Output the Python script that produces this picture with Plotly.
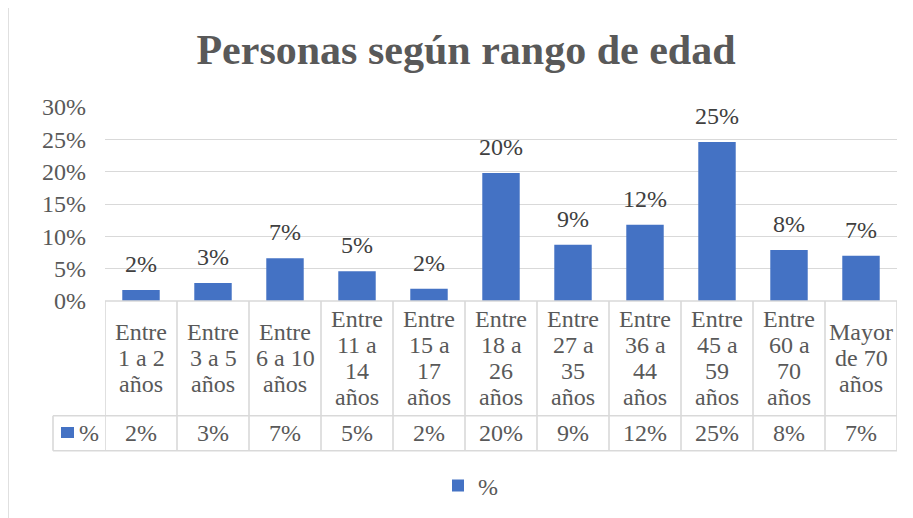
import plotly.graph_objects as go

# ---- data ----
categories = ["Entre 1 a 2 años", "Entre 3 a 5 años", "Entre 6 a 10 años",
              "Entre 11 a 14 años", "Entre 15 a 17 años", "Entre 18 a 26 años",
              "Entre 27 a 35 años", "Entre 36 a 44 años", "Entre 45 a 59 años",
              "Entre 60 a 70 años", "Mayor de 70 años"]
category_lines = [["Entre", "1 a 2", "años"], ["Entre", "3 a 5", "años"],
                  ["Entre", "6 a 10", "años"], ["Entre", "11 a", "14", "años"],
                  ["Entre", "15 a", "17", "años"], ["Entre", "18 a", "26", "años"],
                  ["Entre", "27 a", "35", "años"], ["Entre", "36 a", "44", "años"],
                  ["Entre", "45 a", "59", "años"], ["Entre", "60 a", "70", "años"],
                  ["Mayor", "de 70", "años"]]
values = [0.017, 0.028, 0.066, 0.046, 0.019, 0.198, 0.087, 0.118, 0.246, 0.079, 0.070]
series_name = "%"
title_text = "Personas según rango de edad"
y_ticks = [0, 0.05, 0.10, 0.15, 0.20, 0.25, 0.30]

# ---- layout helpers ----
W, H = 913, 518
OFF = 8  # page body margin offset of the rendered figure
PLOT_L, PLOT_R, PLOT_T, PLOT_B = 105, 897, 107, 301  # target screen pixels
L, T = PLOT_L - OFF, PLOT_T - OFF
R = W - (PLOT_R - OFF)
B = H - (PLOT_B - OFF)
PW, PH = W - L - R, H - T - B
FONT = "Liberation Serif, Times New Roman, serif"
BLUE = "#4472C4"
GRID = "#D9D9D9"
TXT = "#595959"
LBL = "#404040"


def py(px):
    """screen pixel y -> paper y"""
    return (PLOT_B - px) / PH


def pxx(px):
    """screen pixel x -> paper x"""
    return (px - PLOT_L) / PW


def pct(v):
    return f"{round(v * 100)}%"


fig = go.Figure()
fig.add_trace(go.Bar(x=categories, y=values, name=series_name, width=0.52,
                     marker=dict(color=BLUE, line=dict(width=0)),
                     hoverinfo="x+y"))

annotations = []
shapes = []

# data labels above bars
for c, v in zip(categories, values):
    annotations.append(dict(x=c, y=v, xref="x", yref="y", text=pct(v),
                            showarrow=False, yanchor="bottom", yshift=11,
                            font=dict(family=FONT, size=24, color=LBL)))

# table geometry (screen pixels)
row1_top, row1_bot, row2_bot = 301, 415.7, 450.7
key_left = 53
row1_c = (row1_top + row1_bot) / 2
row2_c = (row1_bot + row2_bot) / 2
line_gap = 26

for i, (c, lines, v) in enumerate(zip(categories, category_lines, values)):
    n = len(lines)
    for k, t in enumerate(lines):
        yc = row1_c + (k - (n - 1) / 2) * line_gap
        annotations.append(dict(x=c, y=py(yc), xref="x", yref="paper", text=t,
                                showarrow=False, yanchor="middle",
                                font=dict(family=FONT, size=24, color=TXT)))
    annotations.append(dict(x=c, y=py(row2_c), xref="x", yref="paper", text=pct(v),
                            showarrow=False, yanchor="middle",
                            font=dict(family=FONT, size=24, color=TXT)))

# table lines
tl = dict(color=GRID, width=1.6)
for i in range(len(categories) + 1):
    shapes.append(dict(type="line", xref="x", yref="paper", x0=i - 0.5, x1=i - 0.5,
                       y0=py(row1_top), y1=py(row2_bot), line=tl))
shapes.append(dict(type="line", xref="paper", yref="paper", x0=pxx(key_left), x1=pxx(key_left),
                   y0=py(row1_bot), y1=py(row2_bot), line=tl))
shapes.append(dict(type="line", xref="paper", yref="paper", x0=0, x1=1,
                   y0=py(row1_top), y1=py(row1_top), line=tl))
for yy in (row1_bot, row2_bot):
    shapes.append(dict(type="line", xref="paper", yref="paper", x0=pxx(key_left), x1=1,
                       y0=py(yy), y1=py(yy), line=tl))

# key in table
shapes.append(dict(type="rect", xref="paper", yref="paper", x0=pxx(61), x1=pxx(74),
                   y0=py(438), y1=py(427), fillcolor=BLUE, line=dict(width=0)))
annotations.append(dict(x=pxx(77), y=py(row2_c), xref="paper", yref="paper", text=series_name,
                        showarrow=False, xanchor="left", yanchor="middle",
                        font=dict(family=FONT, size=24, color=TXT)))

# outer chart border
shapes.append(dict(type="rect", xref="paper", yref="paper", x0=pxx(8), x1=pxx(940),
                   y0=py(560), y1=py(7), line=dict(color=GRID, width=1.6),
                   fillcolor="rgba(0,0,0,0)", layer="below"))

fig.update_layout(
    width=W, height=H,
    margin=dict(l=L, r=R, t=T, b=B),
    paper_bgcolor="white", plot_bgcolor="white",
    title=dict(text=f"<b>{title_text}</b>", xref="paper", x=pxx(466), xanchor="center",
               yref="container", y=1 - (49 - OFF) / H, yanchor="middle",
               font=dict(family=FONT, size=42, color=TXT)),
    font=dict(family=FONT, size=24, color=TXT),
    xaxis=dict(type="category", range=[-0.5, len(categories) - 0.5],
               showticklabels=False, showgrid=False, zeroline=False, showline=False,
               ticks=""),
    yaxis=dict(range=[0, 0.30], tickvals=y_ticks, tickformat=".0%",
               showgrid=True, gridcolor=GRID, gridwidth=1.3, zeroline=False,
               showline=False, ticks="", ticklabelstandoff=18,
               tickfont=dict(family=FONT, size=24, color=TXT)),
    showlegend=True,
    legend=dict(orientation="h", x=pxx(438), xanchor="left", y=py(486), yanchor="middle",
                font=dict(family=FONT, size=24, color=TXT), bgcolor="rgba(0,0,0,0)"),
    annotations=annotations,
    shapes=shapes,
    bargap=0.48,
)

fig.write_html("out.html")
